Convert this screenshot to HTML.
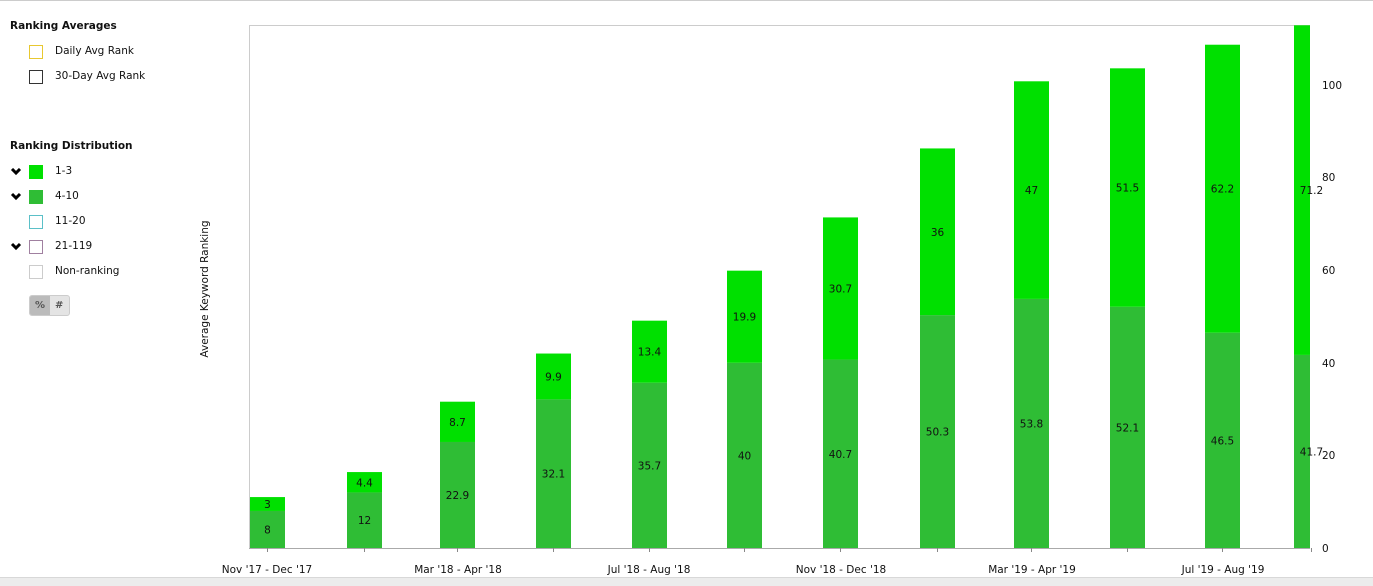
<!DOCTYPE html>
<html><head><style>
body{margin:0;width:1373px;height:585px;background:#fff;font-family:"DejaVu Sans","Liberation Sans",sans-serif;position:relative;overflow:hidden}
.t{position:absolute;font-size:10.5px;color:#111}
.h{font-weight:bold;font-size:10.5px}
.sw{position:absolute;width:14px;height:14px;box-sizing:border-box}
</style></head><body>
<div style="position:absolute;left:0;top:0;width:1373px;height:1px;background:#ccc"></div>
<div style="position:absolute;left:0;top:577px;width:1373px;height:8px;background:#ececec;border-top:1px solid #d8d8d8"></div>
<div class="t h" style="left:10px;top:20px">Ranking Averages</div>
<div class="sw" style="left:29px;top:45px;border:1px solid #e8c830"></div><div class="t" style="left:55px;top:45px">Daily Avg Rank</div>
<div class="sw" style="left:29px;top:70px;border:1px solid #333"></div><div class="t" style="left:55px;top:70px">30-Day Avg Rank</div>
<div class="t h" style="left:10px;top:140px">Ranking Distribution</div>
<svg style="position:absolute;left:10px;top:168px" width="14" height="120">
<polyline points="2,1 6,5 10,1" fill="none" stroke="#000" stroke-width="3"/>
<polyline points="2,1 6,5 10,1" fill="none" stroke="#000" stroke-width="3" transform="translate(0,25)"/>
<polyline points="2,1 6,5 10,1" fill="none" stroke="#000" stroke-width="3" transform="translate(0,75)"/>
</svg>
<div class="sw" style="left:29px;top:165px;background:#00e000"></div><div class="t" style="left:55px;top:165px">1-3</div>
<div class="sw" style="left:29px;top:190px;background:#2fbd35"></div><div class="t" style="left:55px;top:190px">4-10</div>
<div class="sw" style="left:29px;top:215px;border:1px solid #5bc0c8"></div><div class="t" style="left:55px;top:215px">11-20</div>
<div class="sw" style="left:29px;top:240px;border:1px solid #a080a0"></div><div class="t" style="left:55px;top:240px">21-119</div>
<div class="sw" style="left:29px;top:265px;border:1px solid #ccc"></div><div class="t" style="left:55px;top:265px">Non-ranking</div>
<div style="position:absolute;left:29px;top:295px;width:41px;height:21px;border-radius:3px;background:#e4e4e4;border:1px solid #ccc;box-sizing:border-box;overflow:hidden">
<div style="position:absolute;left:0;top:0;width:20px;height:21px;background:#bbb"></div>
<div style="position:absolute;left:5px;top:4px;font-size:10px;font-weight:bold;color:#555">%</div>
<div style="position:absolute;left:25px;top:4px;font-size:10px;font-weight:bold;color:#555">#</div></div>
<svg style="position:absolute;left:0;top:0" width="1373" height="585" font-family="DejaVu Sans, Liberation Sans, sans-serif" font-size="10.5">
<text transform="translate(208,289) rotate(-90)" text-anchor="middle" fill="#111">Average Keyword Ranking</text>
<line x1="249.5" y1="25" x2="249.5" y2="548" stroke="#ccc"/>
<line x1="249" y1="25.5" x2="1310" y2="25.5" stroke="#ccc"/>
<line x1="249" y1="548.5" x2="1310" y2="548.5" stroke="#aaa"/>
<g id="bars"></g>
<g text-anchor="start" fill="#111">
<text x="1322" y="552">0</text><text x="1322" y="459">20</text><text x="1322" y="367">40</text>
<text x="1322" y="274">60</text><text x="1322" y="181">80</text><text x="1322" y="89">100</text>
</g>
<g text-anchor="middle" fill="#111">
<text x="267" y="573">Nov '17 - Dec '17</text><text x="458" y="573">Mar '18 - Apr '18</text>
<text x="649" y="573">Jul '18 - Aug '18</text><text x="841" y="573">Nov '18 - Dec '18</text>
<text x="1032" y="573">Mar '19 - Apr '19</text><text x="1223" y="573">Jul '19 - Aug '19</text>
</g>
</svg>
<script>
var d=[[8,3],[12,4.4],[22.9,8.7],[32.1,9.9],[35.7,13.4],[40,19.9],[40.7,30.7],[50.3,36],[53.8,47],[52.1,51.5],[46.5,62.2],[41.7,71.2]];
var xs=[250,347,440,536,632,727,823,920,1014,1110,1205,1294];
var s='',k=4.63,b=548;
d.forEach(function(v,i){var x=xs[i],w=i==11?16:35,h1=v[0]*k,h2=v[1]*k,c=x+17.5;
s+='<rect x="'+x+'" y="'+(b-h1)+'" width="'+w+'" height="'+h1+'" fill="#2fbd35"/>';
s+='<rect x="'+x+'" y="'+(b-h1-h2)+'" width="'+w+'" height="'+h2+'" fill="#00e000"/>';
s+='<line x1="'+c+'" y1="548" x2="'+c+'" y2="552" stroke="#888"/>';
s+='<text x="'+c+'" y="'+(b-h1/2+4)+'" text-anchor="middle" font-size="10.5" fill="#111">'+v[0]+'</text>';
s+='<text x="'+c+'" y="'+(b-h1-h2/2+4)+'" text-anchor="middle" font-size="10.5" fill="#111">'+v[1]+'</text>';});
document.getElementById('bars').innerHTML=s;
</script>
</body></html>
